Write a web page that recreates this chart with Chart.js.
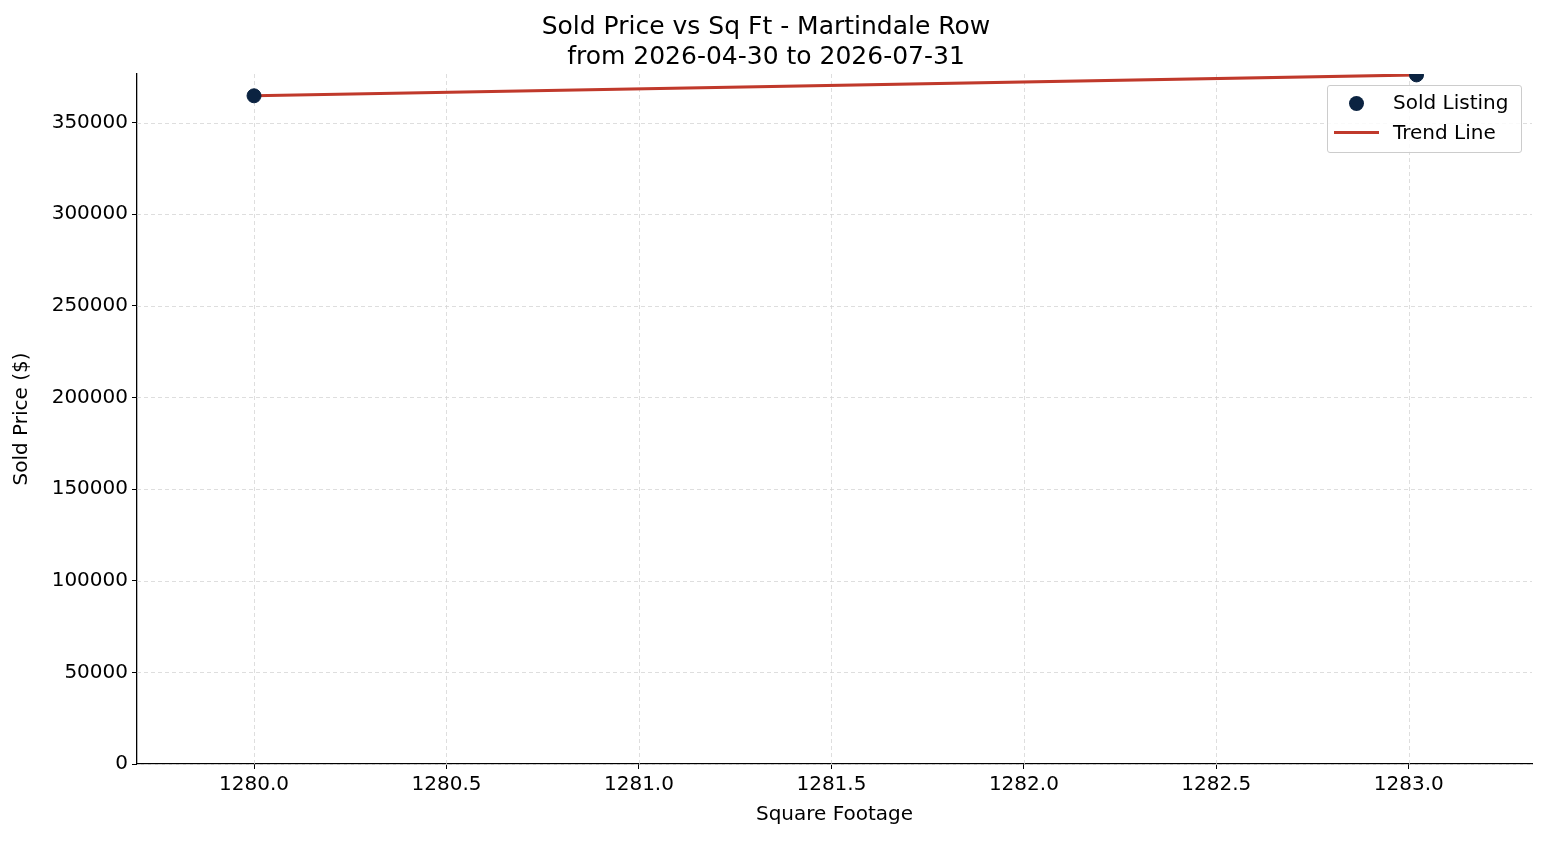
<!DOCTYPE html>
<html><head><meta charset="utf-8">
<script src="https://cdn.jsdelivr.net/npm/chart.js"></script>
<style>html,body{margin:0;padding:0;background:#fff}#w{position:relative;width:1547px;height:845px}
#lg{position:absolute;left:1327px;top:85px;width:193px;height:66px;border:1px solid #ccc;border-radius:3px;background:rgba(255,255,255,0.85);font:20px "DejaVu Sans";color:#000}
#lg div{position:absolute;left:65px;white-space:nowrap}
</style></head><body><div id="w"><canvas id="c" width="1547" height="845"></canvas>
<div id="lg"><span style="position:absolute;left:21px;top:10px;width:15px;height:15px;border-radius:50%;background:#0b2341"></span><div style="top:4px">Sold Listing</div>
<span style="position:absolute;left:6px;top:45px;width:45px;height:3px;background:#c0392b"></span><div style="top:34px">Trend Line</div></div></div>
<script>
const sqft=[1280.0,1283.02];
const price=[364600,376000];
const trendX=[1280.0,1283.02];
const trendY=[364600,376000];
const yTicks=[0,50000,100000,150000,200000,250000,300000,350000];
const xTicks=[1280.0,1280.5,1281.0,1281.5,1282.0,1282.5,1283.0];
const F='"DejaVu Sans"';
const dashGrid={id:'dashGrid',beforeDatasetsDraw(ch){
 const c=ch.ctx,a=ch.chartArea,x=ch.scales.x,y=ch.scales.y;
 c.save();c.strokeStyle='#d5d5d5';c.lineWidth=0.8;c.setLineDash([4,3]);
 xTicks.forEach(v=>{const p=Math.round(x.getPixelForValue(v))+0.5;c.beginPath();c.moveTo(p,a.top);c.lineTo(p,a.bottom);c.stroke();});
 yTicks.forEach(v=>{const p=Math.round(y.getPixelForValue(v))+0.5;c.beginPath();c.moveTo(a.left,p);c.lineTo(a.right,p);c.stroke();});
 c.restore();}};
new Chart(document.getElementById('c'),{
 type:'scatter',
 data:{datasets:[
  {label:'Trend Line',type:'line',data:trendX.map((x,i)=>({x,y:trendY[i]})),borderColor:'#c0392b',borderWidth:3,pointRadius:0,order:2},
  {label:'Sold Listing',data:sqft.map((x,i)=>({x,y:price[i]})),backgroundColor:'#0b2341',borderColor:'#0b2341',pointRadius:7,order:1}
 ]},
 plugins:[dashGrid],
 options:{responsive:false,animation:false,
  layout:{padding:{left:0,right:15,top:0,bottom:14}},
  plugins:{legend:{display:false},tooltip:{enabled:false},
   title:{display:true,text:['Sold Price vs Sq Ft - Martindale Row','from 2026-04-30 to 2026-07-31'],font:{family:F,size:25,weight:'normal'},color:'#000',padding:{top:12,bottom:2},lineHeight:1.15}},
  scales:{
   x:{type:'linear',min:1279.696,max:1283.32,
    afterBuildTicks:a=>{a.ticks=xTicks.map(v=>({value:v}))},
    ticks:{font:{family:F,size:20},color:'#000',callback:v=>v.toFixed(1),padding:4},
    grid:{drawOnChartArea:false,tickColor:'#000',tickLength:5},
    border:{display:true,color:'#000',width:1.3},
    title:{display:true,text:'Square Footage',font:{family:F,size:20},color:'#000',padding:{top:2}}},
   y:{min:0,max:376500,
    afterBuildTicks:a=>{a.ticks=yTicks.map(v=>({value:v}))},
    afterFit:a=>{a.width=137},
    ticks:{font:{family:F,size:20},color:'#000',callback:v=>String(v),padding:4},
    grid:{drawOnChartArea:false,tickColor:'#000',tickLength:5},
    border:{display:true,color:'#000',width:1.3},
    title:{display:true,text:'Sold Price ($)',font:{family:F,size:20},color:'#000',padding:{top:10,bottom:0}}}
  }}
});
</script></body></html>
